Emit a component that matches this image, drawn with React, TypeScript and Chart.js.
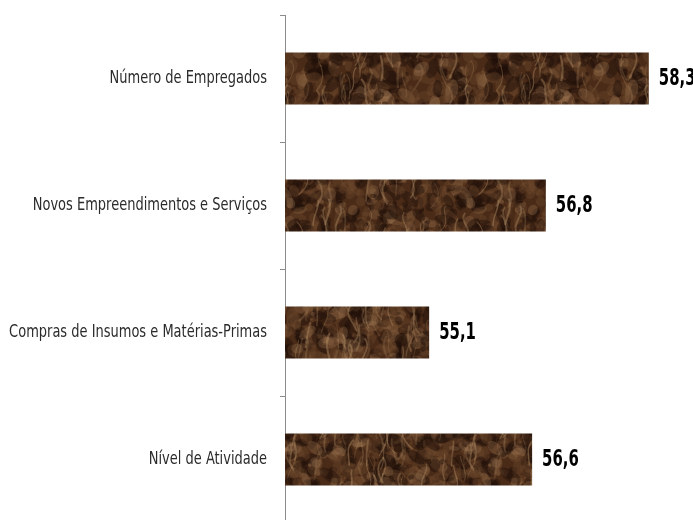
import React, { useEffect, useRef } from "react";
import { Chart, registerables } from "chart.js";

Chart.register(...registerables);

const categories = [
  "Número de Empregados",
  "Novos Empreendimentos e Serviços",
  "Compras de Insumos e Matérias-Primas",
  "Nível de Atividade",
];
const values = [58.3, 56.8, 55.1, 56.6];

const FONT = "'DejaVu Sans Condensed', 'Liberation Sans Narrow', sans-serif";

function makeTexture(): CanvasPattern | string {
  const w = 180;
  const h = 524;
  const c = document.createElement("canvas");
  c.width = w;
  c.height = h;
  const g = c.getContext("2d");
  if (!g) return "#5a3a22";
  g.fillStyle = "#4a2b18";
  g.fillRect(0, 0, w, h);
  const hash = (n: number) => {
    const s = Math.sin(n * 127.1 + 311.7) * 43758.5453;
    return s - Math.floor(s);
  };
  const blot = (x: number, y: number, rx: number, ry: number, rot: number) => {
    for (const dx of [-w, 0, w]) {
      g.beginPath();
      g.ellipse(x + dx, y, rx, ry, rot, 0, Math.PI * 2);
      g.fill();
    }
  };
  for (let i = 0; i < 2400; i++) {
    const x = hash(i) * w;
    const y = hash(i + 100000) * h;
    const r = 2 + hash(i + 200000) * 7;
    const t = hash(i + 300000);
    g.fillStyle =
      t < 0.42 ? "rgba(32,16,8,0.45)" : t < 0.83 ? "rgba(112,74,46,0.35)" : "rgba(158,120,82,0.3)";
    blot(x, y, r * 0.7, r * (0.6 + hash(i + 400000)), hash(i + 500000) * 3);
  }
  for (let i = 0; i < 320; i++) {
    const x = hash(i + 600000) * w;
    const y = hash(i + 700000) * h - 10;
    g.strokeStyle = "rgba(175,140,100," + (0.18 + hash(i + 800000) * 0.28) + ")";
    g.lineWidth = 0.8 + hash(i + 900000) * 1.4;
    for (const dx of [-w, 0, w]) {
      g.beginPath();
      g.moveTo(x + dx, y);
      g.bezierCurveTo(
        x + dx + (hash(i + 1000000) - 0.5) * 18, y + 8,
        x + dx + (hash(i + 1100000) - 0.5) * 18, y + 16,
        x + dx + (hash(i + 1200000) - 0.5) * 14, y + 26
      );
      g.stroke();
    }
  }
  const p = g.createPattern(c, "repeat");
  return p || "#5a3a22";
}

const customLabels = {
  id: "customLabels",
  afterDatasetsDraw(chart: any) {
    const ctx = chart.ctx;
    const meta = chart.getDatasetMeta(0);
    const yScale = chart.scales.y;
    ctx.save();
    ctx.font = "bold 23px " + FONT;
    ctx.fillStyle = "#000000";
    ctx.textAlign = "left";
    ctx.textBaseline = "middle";
    meta.data.forEach((bar: any, i: number) => {
      const txt = values[i].toFixed(1).replace(".", ",");
      ctx.save();
      ctx.translate(bar.x + 10, bar.y + 1);
      ctx.scale(0.72, 1);
      ctx.fillText(txt, 0, 0);
      ctx.restore();
    });
    ctx.font = "17px " + FONT;
    ctx.fillStyle = "#2b2b2b";
    ctx.textAlign = "right";
    categories.forEach((lab, i) => {
      const y = yScale.getPixelForValue(i);
      ctx.save();
      ctx.translate(yScale.right - 18, y);
      ctx.scale(0.85, 1);
      ctx.fillText(lab, 0, 0);
      ctx.restore();
    });
    ctx.restore();
  },
};

export default function App() {
  const ref = useRef<HTMLCanvasElement>(null);
  useEffect(() => {
    if (!ref.current) return;
    const tex = makeTexture();
    const chart = new Chart(ref.current, {
      type: "bar",
      data: {
        labels: categories,
        datasets: [
          {
            data: values,
            backgroundColor: tex as any,
            borderWidth: 0,
            categoryPercentage: 1,
            barPercentage: 0.41,
          },
        ],
      },
      options: {
        indexAxis: "y",
        animation: false,
        responsive: false,
        layout: { padding: { top: 15, right: 3, bottom: 0, left: 0 } },
        plugins: { legend: { display: false }, tooltip: { enabled: false } },
        scales: {
          x: { display: false, min: 53, max: 58.9 },
          y: {
            afterFit: (s: any) => {
              s.width = 285;
            },
            border: { display: true, color: "#8c8c8c", width: 1 },
            grid: {
              drawOnChartArea: false,
              tickLength: 5,
              color: "#8c8c8c",
              offset: true,
            },
            ticks: { display: false, padding: 0 },
          },
        },
      },
      plugins: [customLabels],
    });
    return () => chart.destroy();
  }, []);
  return (
    <div
      style={{
        position: "fixed",
        left: 0,
        top: 0,
        width: 693,
        height: 520,
        overflow: "hidden",
        background: "#fff",
      }}
    >
      <canvas ref={ref} width={693} height={523} style={{ display: "block" }} />
    </div>
  );
}
